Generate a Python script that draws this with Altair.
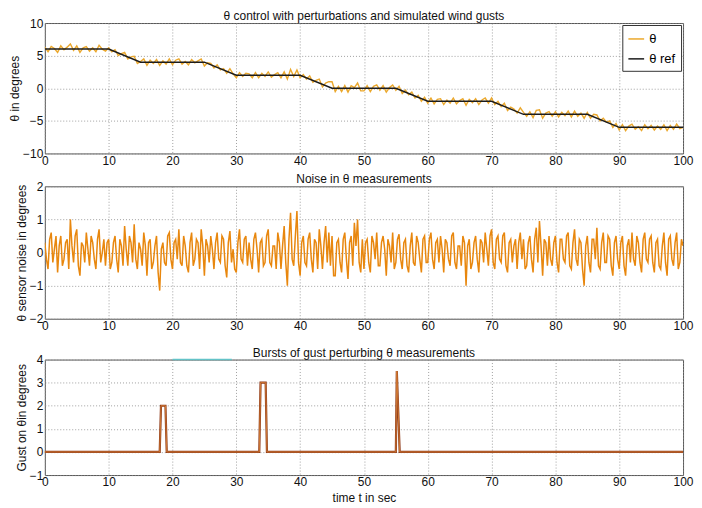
import altair as alt
import pandas as pd

# time grids
TIME = [i * 0.5 for i in range(201)]        # theta samples, 0.5 s
TIME_FINE = [i * 0.25 for i in range(401)]  # noise samples, 0.25 s

THETA = [
    6.3, 5.6, 6.4, 6.1, 5.5, 6.5, 5.9, 6.3, 6.8, 5.8, 6.5, 5.5, 6.2, 6.4, 5.7, 6.2, 5.6, 6.6, 6.0, 5.7,
    6.2, 5.6, 5.9, 5.0, 5.3, 5.5, 4.5, 4.8, 4.9, 3.8, 4.1, 4.5, 3.5, 4.3, 3.8, 4.4, 3.5, 4.2, 3.7, 4.5,
    3.6, 4.3, 4.5, 3.7, 4.1, 3.6, 4.4, 3.9, 4.2, 4.5, 3.4, 3.9, 3.8, 3.1, 3.6, 2.8, 3.0, 2.3, 3.0, 2.2,
    1.6, 2.4, 1.8, 2.3, 2.2, 1.6, 2.4, 1.6, 2.3, 1.8, 2.5, 1.7, 2.1, 2.4, 1.6, 2.5, 1.4, 2.9, 1.8, 2.8,
    1.6, 2.1, 1.4, 1.9, 0.9, 1.2, 1.4, 0.2, 0.8, 1.0, 1.0, -0.5, 0.3, -0.5, 0.4, -0.6, 0.4, 0.1, 0.8, -0.4,
    -0.4, 0.4, -0.5, 0.3, 0.5, -0.3, 0.4, -0.6, 0.1, 0.5, -0.3, 0.3, -0.8, -0.3, -1.0, -0.6, -1.5, -1.1, -2.0, -1.4,
    -2.3, -1.5, -2.4, -1.7, -1.6, -2.5, -1.8, -2.3, -1.5, -2.4, -1.9, -1.6, -2.6, -1.7, -2.2, -1.6, -2.5, -1.8, -1.5, -2.3,
    -1.5, -2.5, -2.0, -2.8, -2.3, -3.4, -2.9, -3.2, -3.8, -3.0, -3.7, -4.3, -3.6, -4.5, -3.4, -3.3, -4.6, -3.8, -3.6, -4.3,
    -3.6, -4.4, -3.7, -4.2, -3.5, -4.4, -3.5, -4.3, -3.8, -4.6, -3.7, -4.6, -4.0, -4.1, -5.0, -4.6, -5.2, -5.0, -6.0, -5.4,
    -6.4, -5.6, -6.5, -5.8, -5.5, -6.3, -5.9, -6.5, -5.6, -6.2, -5.7, -6.4, -5.8, -6.3, -5.6, -6.5, -5.7, -6.3, -5.5, -6.2, -6.0,
]

# reference theta breakpoints
REF_T = [0, 10, 15, 25, 30, 40, 45, 55, 60, 70, 75, 85, 90, 100]
REF_V = [6, 6, 4, 4, 2, 2, 0, 0, -2, -2, -4, -4, -6, -6]

# sensor noise (degrees), 0.25 s apart
NOISE = [
    0.3, -0.2, -0.5, 0.4, 0.6, -0.3, 0.1, 0.5, -0.6, 0.2, 0.5, -0.4, -0.2, 0.3, 0.4, -0.5, 1.0, 0.2, -0.3, 0.5,
    0.7, -0.4, -0.7, 0.3, 0.2, -0.3, 0.6, 0.1, -0.4, 0.5, 0.3, -0.2, -0.5, 0.4, 0.7, -0.3, 0.0, 0.4, -0.4, 0.3,
    0.4, -0.5, -0.3, 0.3, 0.5, -0.2, -0.6, 0.4, 0.2, -0.4, 0.8, 0.1, -0.4, 0.5, 0.3, -0.3, 0.85, -0.2, -0.5, 0.3,
    0.1, -0.4, 0.6, 0.2, -0.7, 0.3, 0.4, -0.5, -0.3, 0.2, 0.5, -0.6, -1.15, 0.1, 0.3, -0.3, -0.4, 0.5, 0.6, -0.2,
    -0.5, 0.3, 0.4, -0.2, 0.7, -0.3, -0.4, 0.5, 0.2, -0.4, -0.6, 0.3, 0.6, -0.4, -0.2, 0.4, 0.3, -0.5, 0.7, 0.2,
    -0.7, 0.4, 0.2, -0.3, 0.5, 0.1, -0.5, 0.3, 0.6, -0.2, -0.3, 0.5, 0.4, -0.4, -0.75, 0.3, 0.65, -0.3, 0.1, -0.5,
    -0.6, 0.3, 0.7, -0.2, -0.3, 0.4, 0.5, -0.4, 0.3, -0.2, -0.5, 0.4, 0.6, 0.1, -0.6, 0.3, 0.4, -0.4, -0.3, 0.5,
    0.7, -0.3, -0.4, 0.2, 0.2, -0.5, 0.6, 0.3, -0.5, 0.2, 0.8, -0.3, -1.0, 0.4, 1.2, -0.2, -0.4, 0.5, 1.25, -0.3,
    -0.7, 0.3, 0.5, -0.3, -0.4, 0.4, 0.6, -0.2, -0.6, 0.4, 0.3, -0.5, 0.7, 0.2, -0.5, 0.3, 0.8, -0.3, 0.6, -0.4,
    0.5, -0.7, -0.7, 0.3, 0.4, -0.3, -0.6, 0.4, 0.6, -0.2, -0.8, 0.3, 0.5, -0.4, 0.9, 0.2, 1.0, -0.3, -0.6, 0.4,
    -0.5, 0.3, 0.4, -0.3, -0.6, 0.5, 0.3, -0.2, 0.6, -0.4, -0.4, 0.3, 0.5, 0.1, -0.7, 0.4, 0.2, -0.3, 0.6, -0.5,
    -0.3, 0.4, 0.55, -0.2, -0.5, 0.3, 0.4, -0.4, -0.6, 0.2, 0.6, -0.3, -0.4, 0.5, 0.3, -0.2, -0.6, 0.4, 0.5, -0.3,
    -0.3, 0.4, 0.6, -0.2, -0.5, 0.3, 0.4, -0.3, 0.5, 0.1, -0.6, 0.4, 0.3, -0.2, -0.4, 0.5, 0.6, -0.3, -0.5, 0.2,
    0.2, -0.4, 0.5, 0.3, -1.0, 0.2, 0.4, -0.5, -0.3, 0.3, 0.5, -0.2, -0.6, 0.4, 0.3, -0.3, 0.6, 0.1, -0.4, 0.5,
    0.7, -0.3, -0.5, 0.4, 0.5, -0.2, -0.3, 0.5, 0.6, -0.4, -0.6, 0.3, 0.4, -0.3, 0.2, 0.4, -0.5, 0.3, 0.6, -0.2,
    0.4, -0.5, -0.4, 0.3, 0.5, -0.2, -0.6, 0.4, 0.75, -0.3, 0.95, 0.2, -0.7, 0.4, 0.3, -0.4, 0.5, -0.2, -0.4, 0.3,
    0.5, -0.3, -0.6, 0.4, 0.4, -0.2, -0.3, 0.5, 0.6, -0.4, -0.5, 0.3, 0.7, -0.2, -0.4, 0.4, 0.3, -0.5, -1.0, 0.2,
    0.5, -0.3, -0.6, 0.4, 0.4, -0.2, 0.75, -0.4, -0.5, 0.3, 0.6, -0.3, -0.3, 0.5, 0.4, -0.4, -0.7, 0.3, 0.5, -0.2,
    -0.5, 0.3, 0.5, -0.4, -0.7, 0.2, 0.4, -0.3, 0.6, -0.2, -0.4, 0.5, 0.3, -0.3, -0.6, 0.4, 0.6, -0.2, -0.3, 0.4,
    0.5, -0.3, -0.6, 0.3, 0.4, -0.4, -0.5, 0.2, 0.6, -0.3, -0.7, 0.4, 0.5, -0.2, -0.4, 0.3, 0.6, -0.5, -0.3, 0.4,
    0.2,
]

# gust bursts breakpoints
GUST_T = [0, 18.0, 18.2, 18.9, 19.1, 33.6, 33.8, 34.6, 34.8, 55.0, 55.15, 55.6, 100]
GUST_V = [0, 0, 2, 2, 0, 0, 3, 3, 0, 0, 3.5, 0, 0]

# small cyan segment on the top border of the gust panel
CYAN_T = [20, 29.3]
CYAN_V = [4, 4]

X_TICKS = list(range(0, 101, 10))

FONT = "Liberation Sans"
W = 641


def title(text):
    return alt.TitleParams(text, fontSize=12, fontWeight="normal", font=FONT,
                           color="#111", offset=-6, anchor="middle", frame="group")


def xenc(t=None):
    return alt.X("t:Q", scale=alt.Scale(domain=[0, 100], nice=False),
                 axis=alt.Axis(values=X_TICKS, labelFlush=False, labelOverlap=False,
                               title=t, titlePadding=5))


# ---- top panel
df_theta = pd.DataFrame({"t": TIME, "v": THETA, "s": "θ"})
df_ref = pd.DataFrame({"t": REF_T, "v": REF_V, "s": "θ ref"})
color = alt.Color("s:N", title=None,
                  scale=alt.Scale(domain=["θ", "θ ref"], range=["#EBA82C", "#1c1c1c"]),
                  legend=alt.Legend(orient="top-right", offset=2, fillColor="white",
                                    strokeColor="#333", padding=5, symbolType="stroke",
                                    symbolStrokeWidth=1.5, symbolSize=250, labelFontSize=13,
                                    labelFont=FONT, rowPadding=4))
y1 = alt.Y("v:Q", title="θ in degrees",
           scale=alt.Scale(domain=[-10, 10], nice=False),
           axis=alt.Axis(values=[-10, -5, 0, 5, 10]))
l_theta = alt.Chart(df_theta).mark_line(strokeWidth=1.4, clip=True).encode(x=xenc(), y=y1, color=color)
l_ref = alt.Chart(df_ref).mark_line(strokeWidth=1.5, clip=True).encode(x=xenc(), y=y1, color=color)
top = alt.layer(l_theta, l_ref).properties(
    width=W, height=131, title=title("θ  control with perturbations and simulated wind gusts"))

# ---- middle panel
df_noise = pd.DataFrame({"t": TIME_FINE, "v": NOISE})
mid = alt.Chart(df_noise).mark_line(strokeWidth=1.5, color="#E8870E", clip=True).encode(
    x=xenc(),
    y=alt.Y("v:Q", title="θ sensor noise in degrees",
            scale=alt.Scale(domain=[-2, 2], nice=False),
            axis=alt.Axis(values=[-2, -1, 0, 1, 2])),
).properties(width=W, height=133, title=title("Noise in  θ  measurements"))

# ---- bottom panel
df_gust = pd.DataFrame({"t": GUST_T, "v": GUST_V})
df_cyan = pd.DataFrame({"t": CYAN_T, "v": CYAN_V})
xb = xenc("time t in sec")
yb = alt.Y("v:Q", title="Gust on θin degrees",
           scale=alt.Scale(domain=[-1, 4], nice=False),
           axis=alt.Axis(values=[-1, 0, 1, 2, 3, 4]))
g_dark = alt.Chart(df_gust).mark_line(strokeWidth=2.2, color="#8E3A1A").encode(x=xb, y=yb)
g_light = alt.Chart(df_gust).mark_line(strokeWidth=0.8, color="#E0883A").encode(x=xb, y=yb)
cyan = alt.Chart(df_cyan).mark_line(strokeWidth=1.5, color="#63C3C8").encode(x=xb, y=yb)
bot = alt.layer(g_dark, g_light, cyan).properties(
    width=W, height=116, title=title("Bursts of gust perturbing  θ  measurements"))

chart = alt.vconcat(alt.vconcat(top, mid, spacing=5), bot, spacing=13).properties(
    padding={"left": 0, "top": 0, "right": 0, "bottom": 0}
).configure(font=FONT).configure_view(
    stroke="#555", strokeWidth=1
).configure_axis(
    domain=False, ticks=False, grid=True, gridDash=[1, 2], gridColor="#888", gridOpacity=0.8,
    labelFont=FONT, labelFontSize=12, labelColor="#111", labelPadding=2,
    titleFont=FONT, titleFontSize=12, titleFontWeight="normal", titleColor="#111",
    titlePadding=1,
)

chart.save("out.html", embed_options={"renderer": "svg", "actions": False})
